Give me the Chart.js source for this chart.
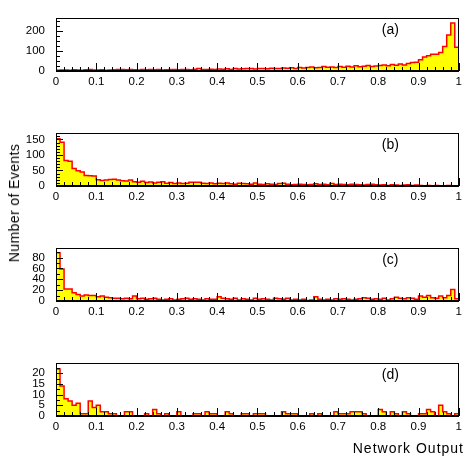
<!DOCTYPE html>
<html>
<head>
<meta charset="utf-8">
<script src="https://cdn.jsdelivr.net/npm/chart.js@4.4.1/dist/chart.umd.min.js"></script>
<style>
  body { margin: 0; background: #fff; width: 466px; height: 457px; position: relative; overflow: hidden;
         font-family: "Liberation Sans", Arial, sans-serif; }
  canvas { position: absolute; left: 0; }
  #yTitle { position: absolute; left: 14px; top: 203px; transform: translate(-50%, -50%) rotate(-90deg);
            font-size: 14px; white-space: nowrap; letter-spacing: 0.4px; color: #000; }
  #xTitle { position: absolute; right: 2px; top: 440px; font-size: 14px; letter-spacing: 1px; color: #000; }
</style>
</head>
<body>
<canvas id="histA" width="466" height="100" style="top:0px"></canvas>
<canvas id="histB" width="466" height="100" style="top:115px"></canvas>
<canvas id="histC" width="466" height="100" style="top:230px"></canvas>
<canvas id="histD" width="466" height="100" style="top:345px"></canvas>
<div id="yTitle">Number of Events</div>
<div id="xTitle">Network Output</div>
<script>
// 100 bins of width 0.01 over the network output range [0, 1]
const BIN_WIDTH = 0.01;

const countsA = [
  4, 5, 5, 4, 6, 5, 4, 6, 7, 5,
  5, 6, 4, 5, 6, 7, 8, 6, 7, 6,
  5, 7, 6, 8, 6, 7, 5, 6, 7, 8,
  6, 7, 8, 6, 9, 12, 8, 7, 9, 8,
  10, 9, 11, 8, 12, 10, 11, 13, 12, 10,
  12, 13, 11, 14, 12, 13, 15, 14, 16, 13,
  18, 15, 17, 20, 16, 18, 22, 19, 20, 17,
  22, 19, 24, 20, 26, 21, 24, 28, 23, 25,
  28, 30, 26, 32, 29, 35, 30, 38, 42, 44,
  56, 70, 76, 83, 83, 92, 122, 180, 239, 118
];
const countsB = [
  152, 141, 82, 80, 56, 49, 45, 34, 33, 32,
  20, 18, 19, 21, 22, 19, 17, 16, 19, 14,
  12, 15, 11, 13, 10, 12, 14, 9, 11, 8,
  10, 8, 9, 12, 12, 12, 9, 8, 10, 7,
  9, 8, 10, 7, 6, 9, 8, 7, 6, 10,
  6, 5, 7, 6, 5, 8, 9, 6, 4, 5,
  6, 5, 4, 5, 7, 5, 6, 4, 8, 5,
  6, 5, 4, 6, 5, 4, 3, 5, 6, 4,
  3, 4, 2, 4, 3, 2, 3, 4, 2, 3,
  2, 1, 2, 1, 2, 1, 1, 2, 1, 1
];
const countsC = [
  89, 59, 22, 22, 15, 12, 9, 11, 10, 10,
  8, 9, 7, 6, 5, 5, 4, 5, 4, 9,
  4, 5, 3, 4, 5, 3, 2, 3, 4, 2,
  3, 4, 5, 3, 4, 3, 2, 4, 3, 3,
  8, 5, 4, 3, 5, 2, 4, 3, 2, 5,
  3, 4, 3, 2, 5, 4, 3, 5, 2, 3,
  2, 3, 1, 2, 8, 3, 2, 3, 2, 4,
  3, 4, 3, 2, 3, 4, 6, 5, 3, 4,
  3, 5, 2, 4, 7, 5, 4, 6, 5, 3,
  9, 7, 10, 6, 5, 9, 6, 10, 21, 4
];
const countsD = [
  22, 14, 8, 7, 5, 6, 1, 1, 7, 4,
  5, 2, 2, 1, 1, 0, 0, 2, 2, 0,
  0, 0, 1, 0, 3, 1, 0, 1, 0, 0,
  2, 0, 0, 0, 1, 1, 0, 2, 1, 1,
  0, 0, 2, 1, 0, 0, 1, 1, 0, 1,
  1, 1, 0, 0, 0, 0, 2, 1, 1, 1,
  0, 0, 0, 1, 0, 1, 0, 0, 0, 2,
  1, 1, 1, 2, 2, 2, 1, 0, 0, 0,
  3, 2, 0, 2, 1, 0, 2, 1, 0, 0,
  1, 1, 3, 2, 0, 5, 2, 1, 0, 1
];

const xTickLabels = ["0", "0.1", "0.2", "0.3", "0.4", "0.5", "0.6", "0.7", "0.8", "0.9", "1"];
const panelLetters = ["(a)", "(b)", "(c)", "(d)"];

// per panel: y range, labelled step and minor tick step
const panels = [
  { id: "histA", counts: countsA, letter: panelLetters[0], yMax: 265, yStep: 100, yMinor: 25 },
  { id: "histB", counts: countsB, letter: panelLetters[1], yMax: 171, yStep: 50, yMinor: 10 },
  { id: "histC", counts: countsC, letter: panelLetters[2], yMax: 98, yStep: 20, yMinor: 10 },
  { id: "histD", counts: countsD, letter: panelLetters[3], yMax: 24.8, yStep: 5, yMinor: 2.5 }
];

// step outline: bin left edges, closed down to zero at both ends
function histogramPoints(counts) {
  const pts = [{ x: 0, y: 0 }];
  counts.forEach((c, i) => pts.push({ x: i * BIN_WIDTH, y: c }));
  pts.push({ x: counts.length * BIN_WIDTH, y: counts[counts.length - 1] });
  pts.push({ x: counts.length * BIN_WIDTH, y: 0 });
  return pts;
}

// box frame, inward tick marks and panel letter
const framePlugin = {
  id: "framePlugin",
  afterDatasetsDraw(chart, args, opts) {
    const { ctx, chartArea: a, scales: { x, y } } = chart;
    ctx.save();
    ctx.strokeStyle = "#000";
    ctx.lineWidth = 1;
    ctx.beginPath();
    for (let k = 0; k <= 50; k++) {
      const px = Math.round(x.getPixelForValue(k * 0.02)) + 0.5;
      const len = k % 5 === 0 ? 8 : 4;
      ctx.moveTo(px, a.bottom);
      ctx.lineTo(px, a.bottom - len);
    }
    const majorEvery = Math.round(opts.yStep / opts.yMinor);
    for (let k = 0; k * opts.yMinor <= opts.yMax; k++) {
      const py = Math.round(y.getPixelForValue(k * opts.yMinor)) + 0.5;
      const len = k % majorEvery === 0 ? 7 : 4;
      ctx.moveTo(a.left, py);
      ctx.lineTo(a.left + len, py);
    }
    ctx.stroke();

    ctx.strokeRect(Math.round(a.left) + 0.5, Math.round(a.top) + 0.5,
      Math.round(a.right - a.left) - 1, Math.round(a.bottom - a.top));
    ctx.lineWidth = 2;
    ctx.beginPath();
    ctx.moveTo(a.left, Math.round(a.bottom));
    ctx.lineTo(a.right, Math.round(a.bottom));
    ctx.stroke();

    ctx.fillStyle = "#000";
    ctx.font = '14px "Liberation Sans", Arial, sans-serif';
    ctx.textAlign = "center";
    ctx.textBaseline = "middle";
    ctx.fillText(opts.letter, x.getPixelForValue(0.83), a.top + 12);
    ctx.restore();
  }
};

function makeHistogram(panel) {
  const canvas = document.getElementById(panel.id);
  return new Chart(canvas, {
    type: "line",
    data: {
      datasets: [{
        data: histogramPoints(panel.counts),
        stepped: true,
        fill: "origin",
        backgroundColor: "#ffff00",
        borderColor: "#ff0000",
        borderWidth: 1.5,
        pointRadius: 0,
        tension: 0
      }]
    },
    options: {
      animation: false,
      responsive: false,
      layout: { padding: { top: 7, right: 3, left: 0, bottom: 0 } },
      scales: {
        x: {
          type: "linear",
          min: 0,
          max: 1,
          afterFit: (scale) => { scale.height = 29; },
          grid: { display: false, drawTicks: false },
          border: { display: false },
          ticks: {
            stepSize: 0.1,
            autoSkip: false,
            maxRotation: 0,
            padding: 4,
            color: "#000",
            font: { family: '"Liberation Sans", Arial, sans-serif', size: 11.5 },
            callback: (value, index) => xTickLabels[index]
          }
        },
        y: {
          min: 0,
          max: panel.yMax,
          afterFit: (scale) => { scale.width = 56; },
          grid: { display: false, drawTicks: false },
          border: { display: false },
          ticks: {
            stepSize: panel.yStep,
            includeBounds: false,
            autoSkip: false,
            padding: 11,
            color: "#000",
            font: { family: '"Liberation Sans", Arial, sans-serif', size: 11.5 }
          }
        }
      },
      plugins: {
        legend: { display: false },
        tooltip: { enabled: false },
        framePlugin: { yStep: panel.yStep, yMinor: panel.yMinor, yMax: panel.yMax, letter: panel.letter }
      }
    },
    plugins: [framePlugin]
  });
}

panels.forEach(makeHistogram);
</script>
</body>
</html>
